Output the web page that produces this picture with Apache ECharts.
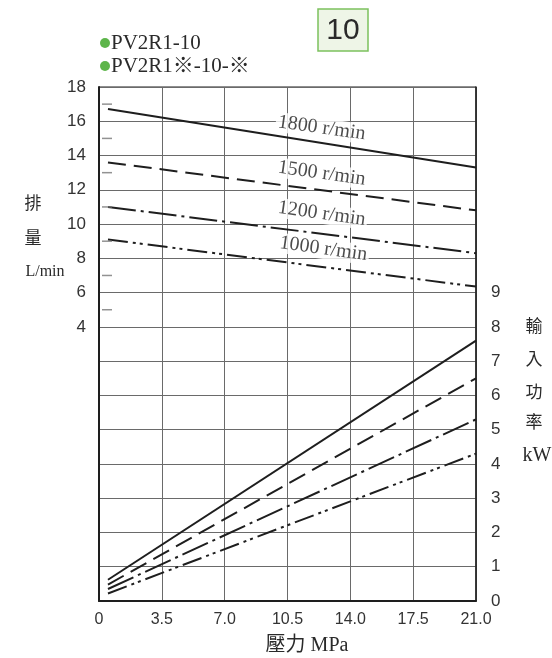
<!DOCTYPE html>
<html>
<head>
<meta charset="utf-8">
<script src="https://cdn.jsdelivr.net/npm/echarts@6/dist/echarts.min.js"></script>
<style>html,body{margin:0;padding:0;background:#fff;}#c{width:552px;height:658px;}</style>
</head>
<body>
<div id="c"></div>
<script>
// ---- data ----
var xTickLabels = ['0', '3.5', '7.0', '10.5', '14.0', '17.5', '21.0'];
var flowTickLabels = [4, 6, 8, 10, 12, 14, 16, 18];
var powerTickLabels = [0, 1, 2, 3, 4, 5, 6, 7, 8, 9];
var minorFlowTicks = [17, 15, 13, 11, 9, 7, 5];

var speeds = ['1800 r/min', '1500 r/min', '1200 r/min', '1000 r/min'];
var pressureEnds = [0.5, 21];
var flow1800 = [16.72, 13.3];
var flow1500 = [13.6, 10.8];
var flow1200 = [11.0, 8.3];
var flow1000 = [9.1, 6.35];
var power1800 = [0.62, 7.6];
var power1500 = [0.48, 6.5];
var power1200 = [0.35, 5.3];
var power1000 = [0.22, 4.3];
var labelPressure = [12.4, 12.4, 12.4, 12.5];
var labelFlow = [15.6, 12.95, 10.6, 8.55];

var legendLines = ['PV2R1-10', 'PV2R1\u203b-10-\u203b'];
var titleText = '10';

// ---- chart ----
var chart = echarts.init(document.getElementById('c'), null, {renderer: 'canvas'});
var ink = '#1e1e1e';
var serif = 'Liberation Serif, Times New Roman, Noto Sans CJK TC, serif';
var narrow = 'Liberation Sans Narrow, Liberation Sans, Arial, sans-serif';
var cjk = 'Noto Sans CJK TC, Liberation Serif, serif';

function pairs(xs, ys) { return xs.map(function (x, i) { return [x, ys[i]]; }); }

var dashStyles = ['solid', [18, 8], [28, 5, 3, 5], [20, 5, 3, 4, 3, 5]];
var flows = [flow1800, flow1500, flow1200, flow1000];
var powers = [power1800, power1500, power1200, power1000];

var series = [];
flows.forEach(function (f, i) {
  series.push({
    type: 'line', yAxisIndex: 0, data: pairs(pressureEnds, f), symbol: 'none',
    lineStyle: {color: ink, width: 2, type: dashStyles[i]}, z: 3, silent: true
  });
});
powers.forEach(function (p, i) {
  series.push({
    type: 'line', yAxisIndex: 1, data: pairs(pressureEnds, p), symbol: 'none',
    lineStyle: {color: ink, width: 2, type: dashStyles[i]}, z: 3, silent: true
  });
});
// speed labels
series.push({
  type: 'scatter', yAxisIndex: 0, symbolSize: 0, z: 5, silent: true,
  data: labelPressure.map(function (x, i) { return {value: [x, labelFlow[i]], name: speeds[i]}; }),
  label: {
    show: true, position: 'inside', formatter: '{b}', rotate: -8,
    fontFamily: serif, fontSize: 20, color: ink,
    backgroundColor: '#fff', padding: [0, 2]
  }
});
// minor ticks on flow axis
series.push({
  type: 'scatter', yAxisIndex: 0, symbol: 'rect', symbolSize: [10, 1.5],
  symbolOffset: [8, 0], z: 4, silent: true,
  itemStyle: {color: '#777'},
  data: minorFlowTicks.map(function (v) { return [0, v]; })
});

function txt(x, y, s, size, fam, align) {
  return {type: 'text', x: x, y: y, style: {text: s, fontSize: size, fontFamily: fam,
    fill: '#2a2a2a', textAlign: align || 'center', textVerticalAlign: 'middle'}};
}

chart.setOption({
  animation: false,
  backgroundColor: '#fff',
  grid: {left: 99, top: 87, width: 377, height: 514, show: true, borderColor: ink, borderWidth: 1},
  xAxis: {
    type: 'value', min: 0, max: 21, interval: 3.5,
    axisLine: {show: true, onZero: false, lineStyle: {color: ink, width: 2}},
    axisTick: {show: false},
    splitLine: {show: true, lineStyle: {color: '#6a6a6a', width: 1}},
    axisLabel: {
      margin: 11, color: '#333', fontFamily: narrow, fontSize: 16,
      formatter: function (v, i) { return xTickLabels[i]; }
    }
  },
  yAxis: [{
    type: 'value', min: -12, max: 18, interval: 2, position: 'left',
    axisLine: {show: true, onZero: false, lineStyle: {color: ink, width: 2}},
    axisTick: {show: false},
    splitLine: {show: true, lineStyle: {color: '#6a6a6a', width: 1}},
    axisLabel: {
      margin: 13, color: '#333', fontFamily: narrow, fontSize: 17,
      formatter: function (v) { return flowTickLabels.indexOf(v) >= 0 ? String(v) : ''; }
    }
  }, {
    type: 'value', min: 0, max: 15, interval: 1, position: 'right',
    axisLine: {show: true, onZero: false, lineStyle: {color: ink, width: 1.5}},
    axisTick: {show: false},
    splitLine: {show: false},
    axisLabel: {
      margin: 15, color: '#333', fontFamily: narrow, fontSize: 17,
      formatter: function (v) { return powerTickLabels.indexOf(v) >= 0 ? String(v) : ''; }
    }
  }],
  graphic: [
    {type: 'rect', shape: {x: 318, y: 9, width: 50, height: 42},
     style: {fill: '#eef5e7', stroke: '#7cc15e', lineWidth: 1.5}},
    txt(343, 31, titleText, 30, 'Liberation Sans, Arial, sans-serif'),
    {type: 'circle', shape: {cx: 105, cy: 43, r: 5}, style: {fill: '#5db54a'}},
    txt(111, 43, legendLines[0], 21, serif, 'left'),
    {type: 'circle', shape: {cx: 105, cy: 66, r: 5}, style: {fill: '#5db54a'}},
    txt(111, 66, legendLines[1], 21, serif, 'left'),
    // left axis name
    txt(33, 203, '排', 17, cjk),
    txt(33, 238, '量', 17, cjk),
    txt(45, 272, 'L/min', 16, serif),
    // right axis name
    txt(534, 326, '輸', 17, cjk),
    txt(534, 359, '入', 17, cjk),
    txt(534, 392, '功', 17, cjk),
    txt(534, 422, '率', 17, cjk),
    txt(537, 456, 'kW', 20, serif),
    // bottom axis name
    txt(307, 646, '壓力 MPa', 20, serif)
  ],
  series: series
});
</script>
</body>
</html>
